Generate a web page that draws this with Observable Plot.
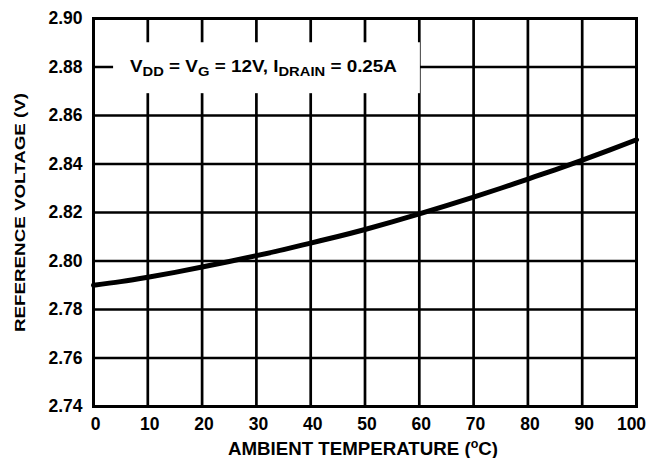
<!DOCTYPE html>
<html><head><meta charset="utf-8">
<script src="https://cdn.jsdelivr.net/npm/d3@7"></script>
<script src="https://cdn.jsdelivr.net/npm/@observablehq/plot@0.6"></script>
<style>
body{margin:0;background:#fff;}
svg{font-family:"Liberation Sans",Arial,sans-serif;font-weight:bold;}
</style></head><body>
<div id="chart"></div>
<script>
const temps = [0, 5, 10, 15, 20, 25, 30, 35, 40, 45, 50, 55, 60, 65, 70, 75, 80, 85, 90, 95, 100];
const vref  = [2.7900, 2.7915, 2.7933, 2.7953, 2.7975, 2.7998, 2.8022, 2.8047, 2.8074, 2.8101, 2.8130, 2.8161, 2.8194, 2.8228, 2.8263, 2.8300, 2.8338, 2.8376, 2.8416, 2.8457, 2.8500];
const xTicks = [0,10,20,30,40,50,60,70,80,90,100];
const yTicks = [2.74,2.76,2.78,2.80,2.82,2.84,2.86,2.88,2.90];
const boxX = [3.7, 60.2];
const boxY = [2.8690, 2.8900];
const annotation = [["V",false],["DD",true],[" = V",false],["G",true],[" = 12V, I",false],["DRAIN",true],[" = 0.25A",false]];
const xTitle = "AMBIENT TEMPERATURE (";
const yTitle = "REFERENCE VOLTAGE (V)";
const data = temps.map((t,i)=>({t, v: vref[i]}));

const plot = Plot.plot({
  width: 657, height: 458,
  marginLeft: 93, marginTop: 18, marginRight: 21, marginBottom: 52,
  style: {fontFamily: '"Liberation Sans", Arial, sans-serif', fontWeight: "bold", fontSize: "17px", color: "#000"},
  x: {domain: [0,100], label: null},
  y: {domain: [2.74,2.90], label: null},
  marks: [
    Plot.gridX(xTicks, {stroke: "#000", strokeOpacity: 1, strokeWidth: 2.7}),
    Plot.gridY(yTicks, {stroke: "#000", strokeOpacity: 1, strokeWidth: 2.7}),
    Plot.rect([{x1: boxX[0], x2: boxX[1], y1: boxY[0], y2: boxY[1]}], {x1:"x1", x2:"x2", y1:"y1", y2:"y2", fill: "#fff"}),
    Plot.frame({stroke: "#000", strokeWidth: 3}),
    Plot.line(data, {x: "t", y: "v", stroke: "#000", strokeWidth: 5, curve: "natural"}),
    Plot.axisX({ticks: xTicks, tickSize: 0, tickPadding: 11, fontSize: 17.5, label: null, dx: 2}),
    Plot.axisY({ticks: yTicks, tickSize: 0, tickPadding: 11, tickFormat: d3.format(".2f"), fontSize: 17.5, label: null})
  ]
});
document.getElementById("chart").appendChild(plot);
const svg = d3.select(plot);
const sx = plot.scale("x"), sy = plot.scale("y");
// nudge last x tick label inward, as in the reference
const xLabels = svg.selectAll("g[aria-label='x-axis tick label'] text").nodes();
if (xLabels.length) d3.select(xLabels[xLabels.length-1]).attr("dx", -7);
// annotation
const ax = (sx.apply(boxX[0]) + sx.apply(boxX[1]))/2 - 3;
const t = svg.append("text").attr("x", ax).attr("y", 72).attr("text-anchor","middle")
  .attr("font-size", 16).attr("font-weight","bold").attr("fill","#000")
  .attr("textLength", 267).attr("lengthAdjust", "spacingAndGlyphs");
let prevSub = false;
annotation.forEach(([s,sub])=>{
  const ts = t.append("tspan").text(s);
  if (sub) { ts.attr("font-size", 12.5).attr("dy", 4); }
  else if (prevSub) { ts.attr("dy", -4); }
  prevSub = sub;
});
// axis titles
const xt = svg.append("text").attr("x", 363).attr("y", 455)
  .attr("text-anchor","middle").attr("font-size",18).attr("font-weight","bold")
  .attr("textLength", 270).attr("lengthAdjust", "spacingAndGlyphs");
xt.append("tspan").text(xTitle);
xt.append("tspan").text("o").attr("font-size",12).attr("dy",-7);
xt.append("tspan").text("C)").attr("dy",7);
svg.append("text").attr("transform", `translate(25,212.5) rotate(-90)`)
  .attr("text-anchor","middle").attr("font-size",15).attr("font-weight","bold")
  .attr("textLength", 239).attr("lengthAdjust", "spacingAndGlyphs").text(yTitle);
</script></body></html>
